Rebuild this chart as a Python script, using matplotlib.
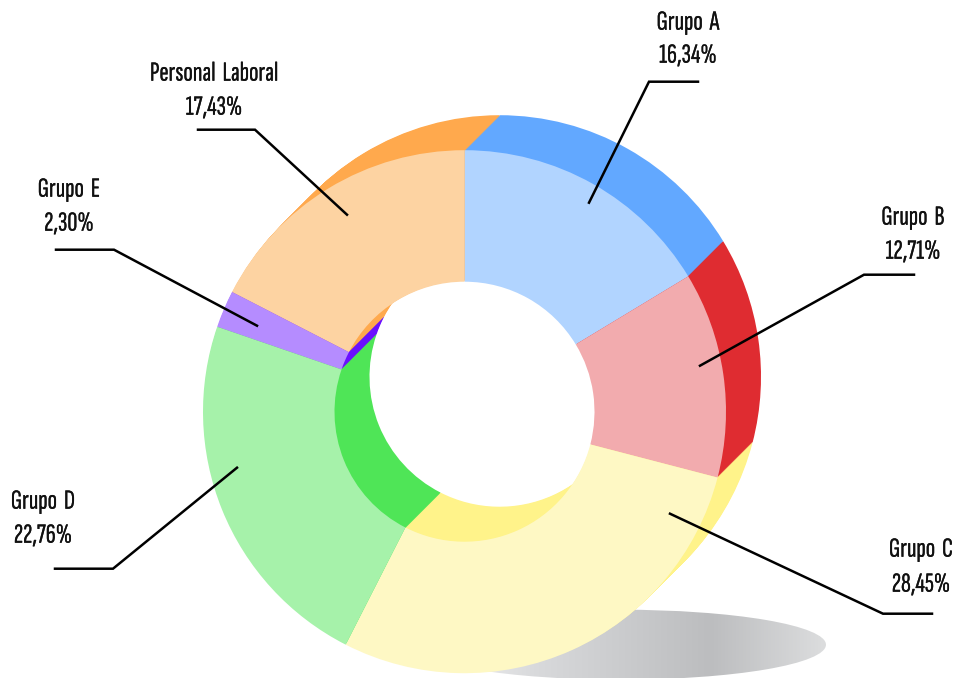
import numpy as np
import matplotlib
matplotlib.use("Agg")
import matplotlib.pyplot as plt
import matplotlib.patheffects as pe
from matplotlib.colors import LinearSegmentedColormap
from matplotlib.patches import Ellipse

grupos = ["Grupo  A", "Grupo  B", "Grupo  C", "Grupo  D", "Grupo  E", "Personal  Laboral"]
valores = [16.34, 12.71, 28.45, 22.76, 2.30, 17.43]
oscuros = ["#62a8ff", "#df2c31", "#fff38a", "#4fe557", "#6a10ff", "#ffa94d"]
claros = ["#b1d4ff", "#f2abae", "#fef8c4", "#a6f2aa", "#b58cff", "#fdd3a2"]

H = 678
plt.rcParams["font.family"] = ["Sofia Sans Extra Condensed", "Lato", "DejaVu Sans"]

fig = plt.figure(figsize=(9.58, 6.78), dpi=100)
ax = fig.add_axes([0, 0, 1, 1])

# sombra con degradado, recortada a una elipse
sombra = LinearSegmentedColormap.from_list(
    "sombra", [(0, "#f6f6f7"), (0.3, "#d8d9db"), (0.72, "#bcbdbf"), (1, "#dcddde")])
grad = np.linspace(0, 1, 256).reshape(1, -1)
img = ax.imshow(grad, cmap=sombra, extent=(415, 826, H - 679, H - 609), aspect="auto", zorder=1)
img.set_clip_path(Ellipse((620.5, H - 644), 411, 70, transform=ax.transData))

# lateral: el anillo repetido en diagonal, de atras hacia delante
for d in range(35, 0, -1):
    ax.pie(valores, colors=oscuros, startangle=90, counterclock=False, radius=261.5,
           center=(464.5 + d, H - 411 + d), frame=True, wedgeprops=dict(width=131.5, linewidth=0, zorder=2))
# cara clara delante
ax.pie(valores, colors=claros, startangle=90, counterclock=False, radius=261.5,
       center=(464.5, H - 411), frame=True, wedgeprops=dict(width=131.5, linewidth=0, zorder=3))

# lineas guia y textos, en pixeles de la imagen
guias = [
    [(589, 202), (649, 81), (698, 81)],
    [(700, 365), (864, 274), (914, 274)],
    [(670, 513), (883, 613), (932, 613)],
    [(237, 467), (113, 568), (55, 568)],
    [(257, 325), (114, 249), (56, 249)],
    [(347, 214), (255, 129), (198, 129)],
]
pos_texto = [(688, 22, 55), (913, 217, 251), (921, 549, 584), (43, 501, 535), (69, 189, 223), (214, 73, 107)]
grueso = [pe.withStroke(linewidth=0.15, foreground="#111111")]

for g, v, guia, (x, y1, y2) in zip(grupos, valores, guias, pos_texto):
    xs = [p[0] for p in guia]
    ys = [H - p[1] for p in guia]
    ax.plot(xs, ys, color="black", lw=1.8, solid_joinstyle="miter", zorder=4)
    ax.text(x, H - y1, g, ha="center", va="center", fontsize=20, color="#111111", zorder=5, path_effects=grueso)
    ax.text(x, H - y2, f"{v:.2f}".replace(".", ",") + "%", ha="center", va="center", fontsize=20, color="#111111", zorder=5, path_effects=grueso)

ax.set_xlim(0, 958)
ax.set_ylim(0.7, H + 0.7)
ax.set_aspect("auto")
ax.axis("off")

fig.savefig("out.png", dpi=100)
